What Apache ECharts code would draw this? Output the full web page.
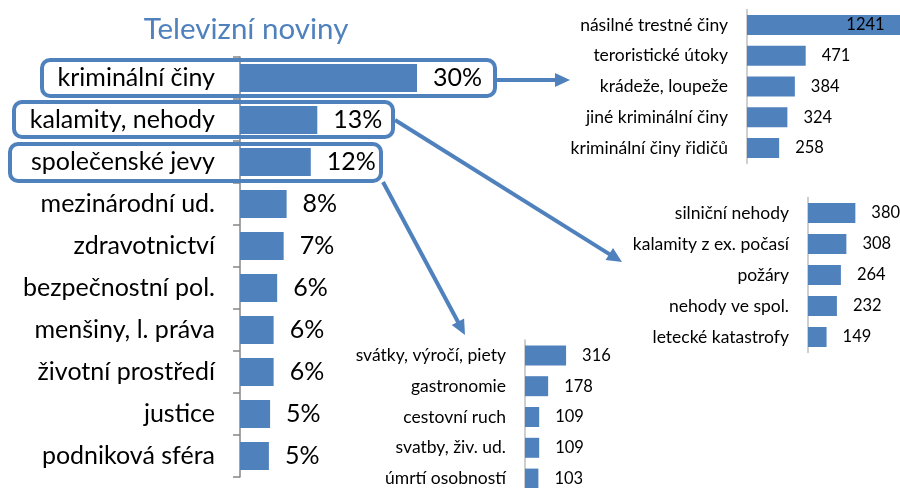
<!DOCTYPE html>
<html>
<head>
<meta charset="utf-8">
<script src="https://cdn.jsdelivr.net/npm/echarts@6/dist/echarts.min.js"></script>
<style>
  html, body { margin: 0; padding: 0; background: #fff; }
  #chart { width: 900px; height: 488px; }
</style>
</head>
<body>
<div id="chart"></div>
<script>
// hlavni graf
var mainCats = ['kriminální činy', 'kalamity, nehody', 'společenské jevy', 'mezinárodní ud.', 'zdravotnictví',
    'bezpečnostní pol.', 'menšiny, l. práva', 'životní prostředí', 'justice', 'podniková sféra'];
var mainVals = [30.0, 13.1, 12.0, 7.9, 7.4, 6.3, 5.7, 5.7, 5.1, 4.9];

// detail - kriminalni ciny
var crimeCats = ['násilné trestné činy', 'teroristické útoky', 'krádeže, loupeže', 'jiné kriminální činy', 'kriminální činy řidičů'];
var crimeVals = [1241, 471, 384, 324, 258];

// detail - kalamity, nehody
var accCats = ['silniční nehody', 'kalamity z ex. počasí', 'požáry', 'nehody ve spol.', 'letecké katastrofy'];
var accVals = [380, 308, 264, 232, 149];

// detail - spolecenske jevy
var socCats = ['svátky, výročí, piety', 'gastronomie', 'cestovní ruch', 'svatby, živ. ud.', 'úmrtí osobností'];
var socVals = [316, 178, 109, 109, 103];

var blue = '#4F81BD';
var font = 'Lato';

var myChart = echarts.init(document.getElementById('chart'));

function smallY(idx, cats) {
    return {
        type: 'category', gridIndex: idx, data: cats, inverse: true,
        axisLine: { lineStyle: { color: '#BFBFBF', width: 1.5 } },
        axisTick: { show: false },
        axisLabel: { color: '#000', fontSize: 17.5, fontFamily: font, margin: 19 }
    };
}
function smallX(idx) {
    return { type: 'value', gridIndex: idx, min: 0, max: 1300, show: false };
}
function smallSeries(idx, vals) {
    return {
        type: 'bar', xAxisIndex: idx, yAxisIndex: idx, barWidth: 20,
        itemStyle: { color: blue },
        label: { show: true, position: 'right', distance: 16, color: '#000', fontSize: 16.5, fontFamily: font },
        data: vals.slice()
    };
}

function arrow(x1, y1, x2, y2) {
    var dx = x2 - x1, dy = y2 - y1;
    var len = Math.sqrt(dx * dx + dy * dy);
    var ux = dx / len, uy = dy / len;
    var hl = 15, hw = 7;
    var bx = x2 - ux * hl, by = y2 - uy * hl;
    return [
        { type: 'line', z: 100, shape: { x1: x1, y1: y1, x2: bx + ux * 2, y2: by + uy * 2 },
          style: { stroke: blue, lineWidth: 4 } },
        { type: 'polygon', z: 100, shape: { points: [[x2, y2], [bx - uy * hw, by + ux * hw], [bx + uy * hw, by - ux * hw]] },
          style: { fill: blue } }
    ];
}
function box(x, y, w, h) {
    return { type: 'rect', z: 100, shape: { x: x, y: y, width: w, height: h, r: 8 },
             style: { fill: 'none', stroke: blue, lineWidth: 4 } };
}

var crimeSeries = smallSeries(1, crimeVals);
crimeSeries.data[0] = { value: crimeVals[0], label: { position: 'insideRight', distance: 17 } };

var graphics = [
    box(42, 60, 453, 36),
    box(14, 102, 379, 35),
    box(10, 144, 371, 37)
].concat(arrow(497, 80, 570, 80), arrow(395, 120, 622, 262), arrow(383, 182, 465, 335));

option = {
    animation: false,
    title: {
        text: 'Televizní noviny', left: 241, top: 9, textAlign: 'center',
        textStyle: { color: blue, fontSize: 29.5, fontWeight: 'normal', fontFamily: font }
    },
    grid: [
        { left: 240, top: 57, width: 236, height: 420, outerBoundsMode: 'none' },
        { left: 747, top: 9.6, width: 162, height: 153.8, outerBoundsMode: 'none' },
        { left: 808, top: 197.5, width: 162, height: 155, outerBoundsMode: 'none' },
        { left: 525, top: 340, width: 169, height: 154, outerBoundsMode: 'none' }
    ],
    xAxis: [
        { type: 'value', gridIndex: 0, min: 0, max: 40, show: false },
        smallX(1), smallX(2), smallX(3)
    ],
    yAxis: [
        {
            type: 'category', gridIndex: 0, data: mainCats, inverse: true,
            axisLine: { lineStyle: { color: '#868686', width: 1.5 } },
            axisTick: { show: true, length: 7, lineStyle: { color: '#868686', width: 1.5 } },
            axisLabel: { color: '#000', fontSize: 25, fontFamily: font, margin: 25 }
        },
        smallY(1, crimeCats), smallY(2, accCats), smallY(3, socCats)
    ],
    series: [
        {
            type: 'bar', xAxisIndex: 0, yAxisIndex: 0, barWidth: 28,
            itemStyle: { color: blue },
            label: {
                show: true, position: 'right', distance: 16, color: '#000', fontSize: 25, fontFamily: font,
                formatter: function (p) { return Math.round(p.value) + '%'; }
            },
            data: mainVals
        },
        crimeSeries,
        smallSeries(2, accVals),
        smallSeries(3, socVals)
    ],
    graphic: graphics
};

myChart.setOption(option);
</script>
</body>
</html>
